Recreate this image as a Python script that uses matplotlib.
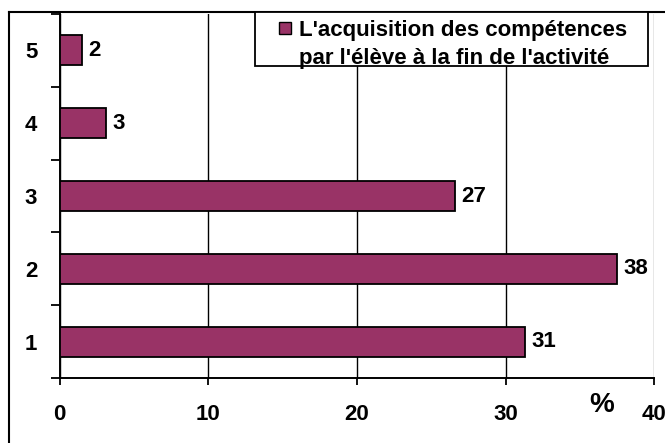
import matplotlib
matplotlib.use('Agg')
import matplotlib.pyplot as plt
from matplotlib.patches import Rectangle
from matplotlib.lines import Line2D

plt.rcParams['font.family'] = ['Liberation Sans', 'DejaVu Sans']
plt.rcParams['font.weight'] = 'bold'

# donnees
niveaux = ['1', '2', '3', '4', '5']
valeurs = [31.3, 37.5, 26.6, 3.1, 1.5]
etiquettes = ['31', '38', '27', '3', '2']
xticks = [0, 10, 20, 30, 40]
legende = ["L'acquisition des compétences", "par l'élève à la fin de l'activité"]

W, H = 665, 443
def fx(p):
    return p / W
def fy(p):
    return 1 - p / H

fs = 16

fig = plt.figure(figsize=(W / 100, H / 100), dpi=100)
ax = fig.add_axes([fx(59.5), fy(378), fx(654.3) - fx(59.5), fy(14) - fy(378)])

pos = list(range(len(niveaux)))
ax.barh(pos, valeurs, height=0.41, color='#993366', edgecolor='black', linewidth=1.3, zorder=3)
for i, v in enumerate(valeurs):
    ax.text(v + 0.45, pos[i], etiquettes[i], va='center', ha='left', fontsize=fs, fontweight='bold')

ax.set_xlim(0, 40)
ax.set_ylim(-0.5, len(niveaux) - 0.5)
ax.set_xticks(xticks)
ax.set_xticklabels([str(t) for t in xticks], fontsize=fs, fontweight='bold')
ax.tick_params(axis='x', length=5, width=1.3, pad=14)

ax.set_yticks([p - 0.5 for p in pos] + [len(niveaux) - 0.5])
ax.set_yticklabels([])
ax.set_yticks(pos, minor=True)
ax.set_yticklabels(niveaux, minor=True, fontsize=fs, fontweight='bold')
ax.tick_params(axis='y', which='major', length=6.5, width=1.3)
ax.tick_params(axis='y', which='minor', length=0, pad=16)

ax.grid(axis='x', color='black', linewidth=1.0, zorder=0)
ax.set_axisbelow(True)
ax.xaxis.get_gridlines()[-1].set_color('#888888')
for s in ['top', 'right']:
    ax.spines[s].set_visible(False)
for s in ['left', 'bottom']:
    ax.spines[s].set_linewidth(1.4)

# titre axe x
fig.text(fx(602), fy(405), '%', ha='center', va='center', fontsize=20, fontweight='bold')

# cadre exterieur
fig.add_artist(Line2D([fx(9), 1], [fy(12), fy(12)], color='black', lw=1.5))
fig.add_artist(Line2D([fx(9), fx(9)], [0, fy(12)], color='black', lw=1.5))

# legende
fig.add_artist(Rectangle((fx(255), fy(66)), fx(648) - fx(255), fy(12) - fy(66),
                         transform=fig.transFigure, facecolor='white', edgecolor='black', lw=1.3, zorder=2))
fig.add_artist(Rectangle((fx(278.5), fy(34.3)), fx(290.7) - fx(278.5), fy(21.7) - fy(34.3),
                         transform=fig.transFigure, facecolor='#993366', edgecolor='black', lw=1.0, zorder=3))
fig.text(fx(299), fy(35.7), legende[0], ha='left', va='baseline', fontsize=fs, fontweight='bold', zorder=4)
fig.text(fx(299), fy(64), legende[1], ha='left', va='baseline', fontsize=fs, fontweight='bold', zorder=4)

plt.savefig('out.png', dpi=100)
